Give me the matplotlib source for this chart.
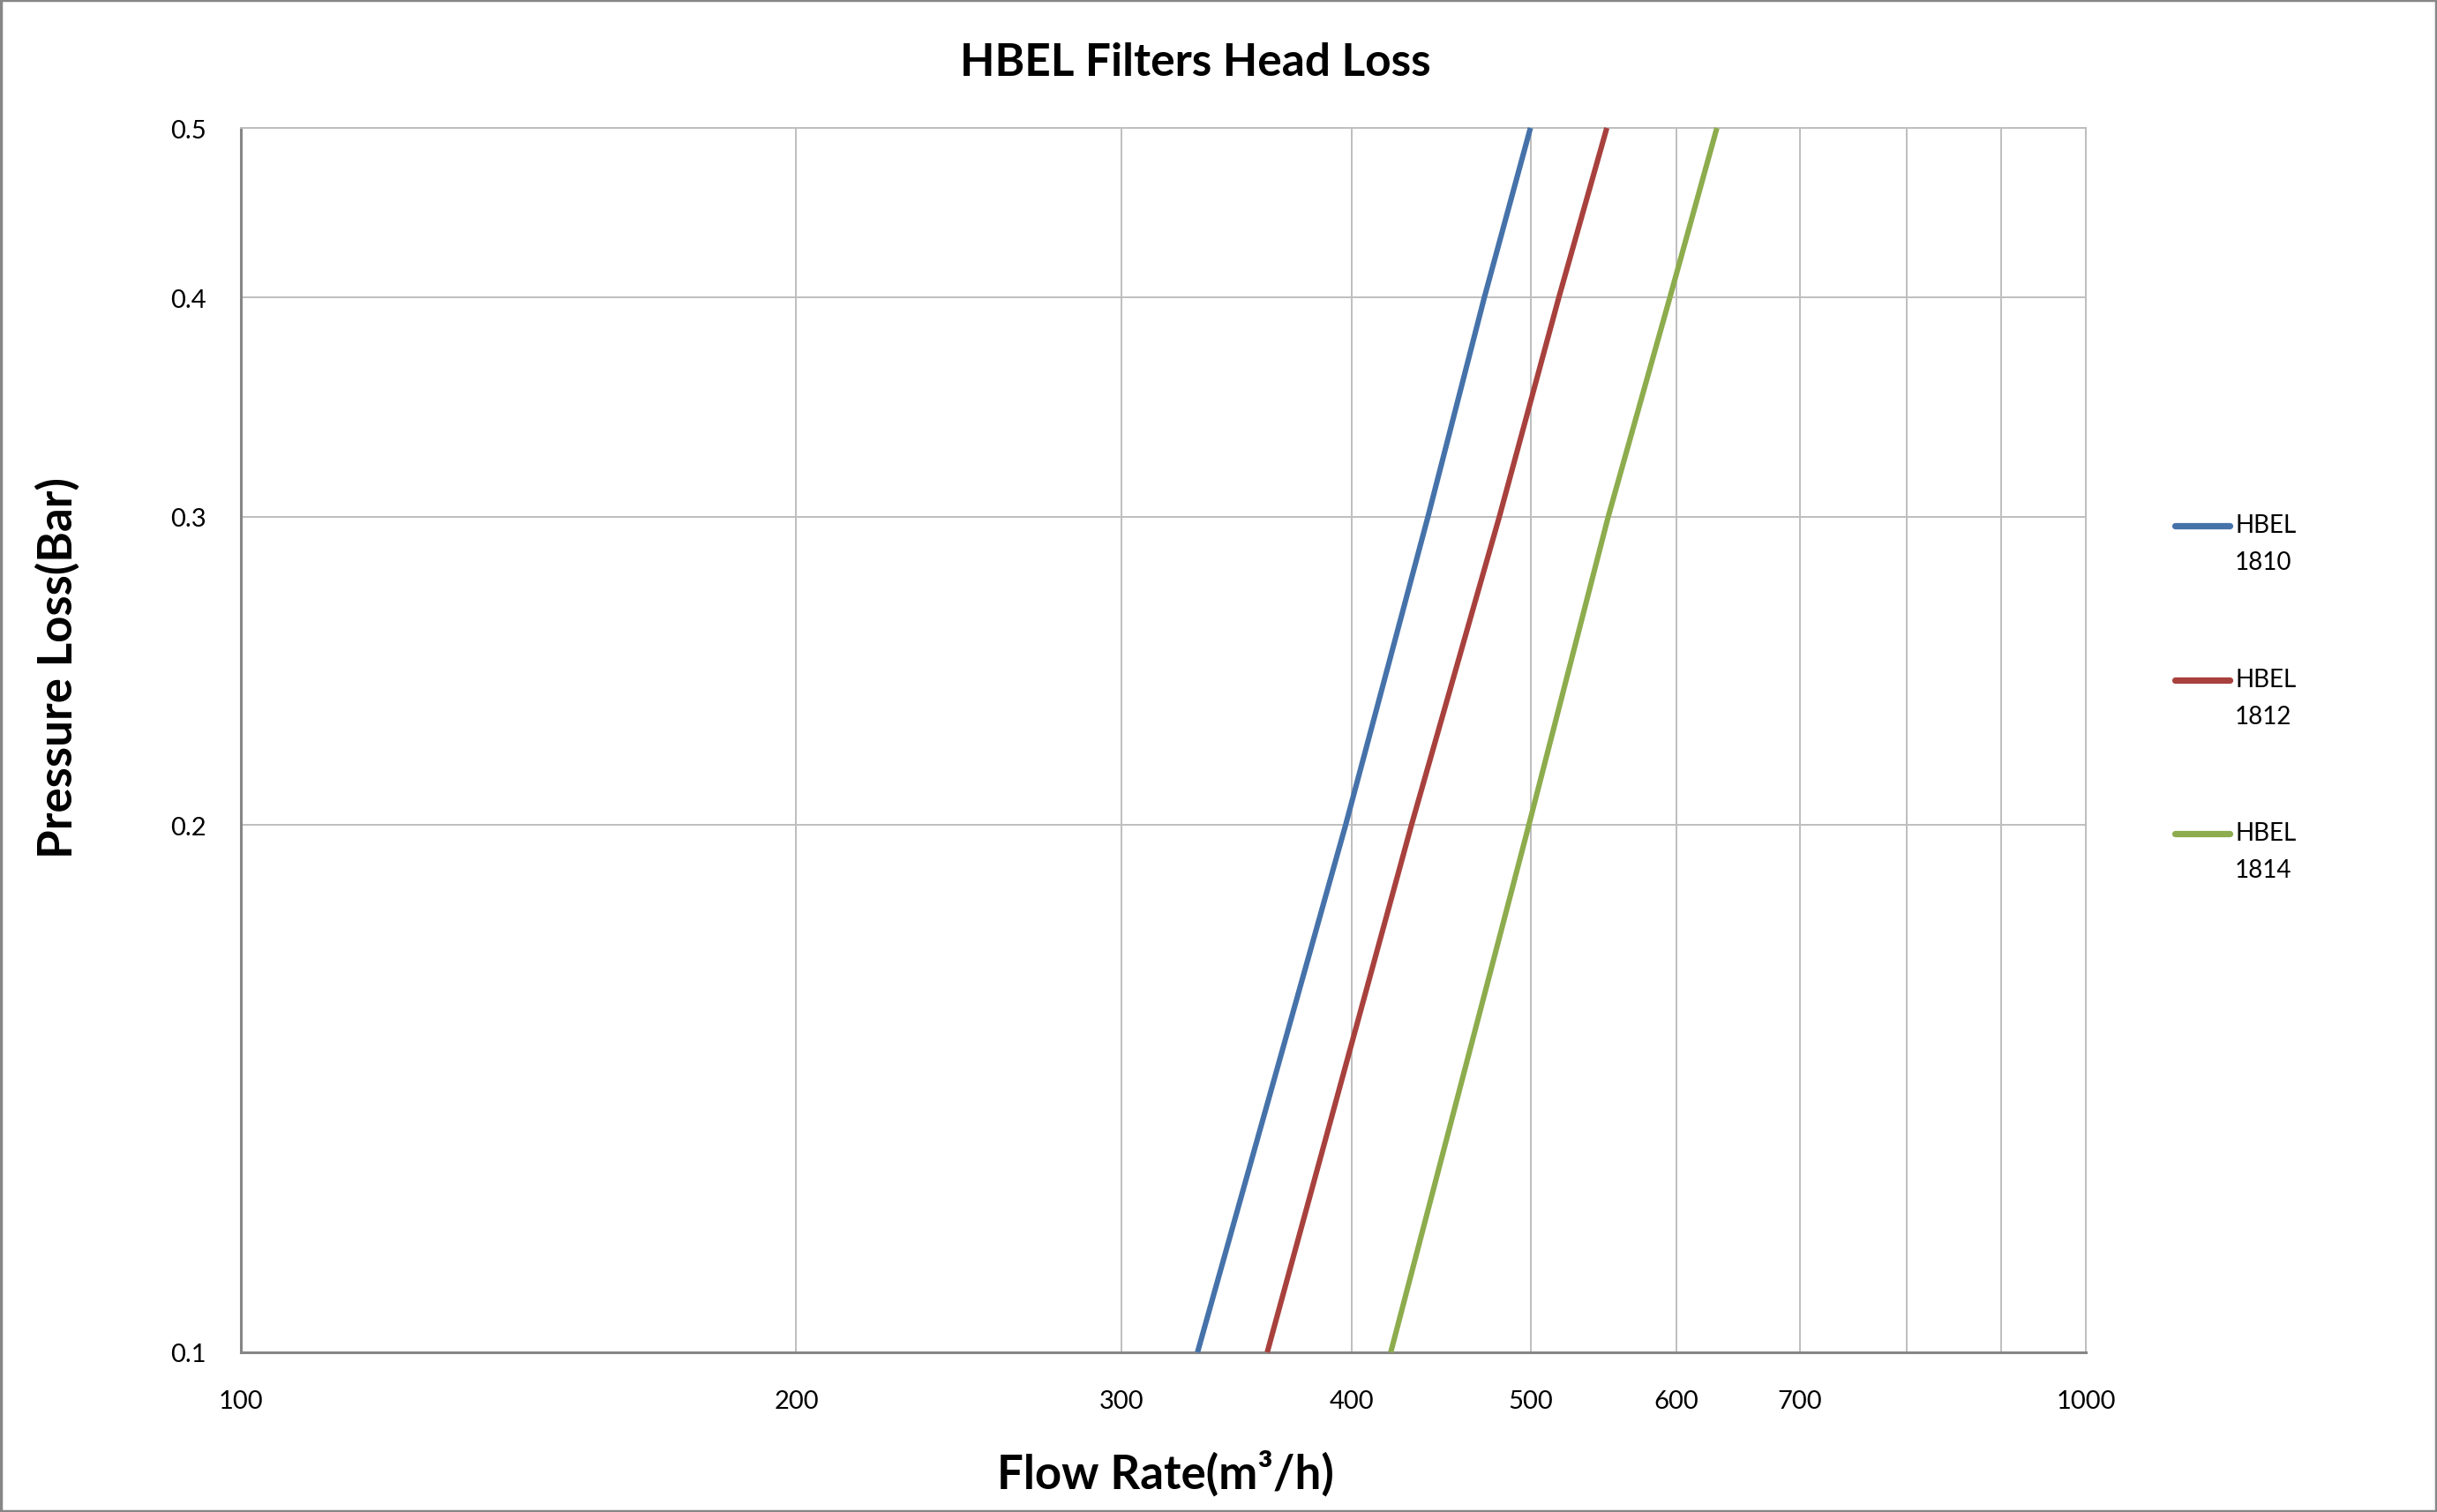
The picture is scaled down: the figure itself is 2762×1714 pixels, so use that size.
import matplotlib
matplotlib.use("Agg")
import matplotlib.pyplot as plt
from matplotlib.lines import Line2D
from matplotlib.patches import Rectangle

# ---- data ----
pressure = [0.1, 0.2, 0.3, 0.4, 0.5]
flow_1810 = [330, 397, 440, 472, 500]
flow_1812 = [360, 431, 481, 518, 550]
flow_1814 = [420, 499, 551, 595, 631]
series_names = ["HBEL\n1810", "HBEL\n1812", "HBEL\n1814"]
series_colors = ["#4672AA", "#A8413D", "#8DAC4D"]

x_ticks = [100, 200, 300, 400, 500, 600, 700, 800, 900, 1000]
x_tick_labels = ["100", "200", "300", "400", "500", "600", "700", "", "", "1000"]
y_ticks = [0.1, 0.2, 0.3, 0.4, 0.5]
y_tick_labels = ["0.1", "0.2", "0.3", "0.4", "0.5"]

plt.rcParams['font.family'] = ['Lato', 'DejaVu Sans']

W, H = 2762, 1715
fig = plt.figure(figsize=(W / 100, H / 100), dpi=100)
ax = fig.add_axes([273 / W, 1 - 1534 / H, (2364 - 273) / W, (1534 - 146) / H])

flows = [flow_1810, flow_1812, flow_1814]
for fl, c in zip(flows, series_colors):
    ax.plot(fl, pressure, color=c, lw=4.4, solid_capstyle='butt', zorder=3, clip_on=False)

ax.set_xscale('log')
ax.set_yscale('log')
ax.set_xlim(100, 1000)
ax.set_ylim(0.1, 0.5)
ax.xaxis.set_minor_locator(matplotlib.ticker.NullLocator())
ax.yaxis.set_minor_locator(matplotlib.ticker.NullLocator())
ax.set_xticks(x_ticks)
ax.set_xticklabels(x_tick_labels)
ax.set_yticks(y_ticks)
ax.set_yticklabels(y_tick_labels)
ax.tick_params(axis='both', length=0, labelsize=21, colors='black')
ax.tick_params(axis='x', pad=30)
ax.tick_params(axis='y', pad=28)
ax.grid(True, color='#BEBEBE', lw=1.4, zorder=1)

for s in ['top', 'right']:
    ax.spines[s].set_color('#BEBEBE')
    ax.spines[s].set_linewidth(1.4)
for s in ['left', 'bottom']:
    ax.spines[s].set_color('#868686')
    ax.spines[s].set_linewidth(2.2)

fig.text(1355 / W, 1 - 72 / H, "HBEL Filters Head Loss", ha='center', va='center',
         fontsize=37, fontweight='bold')
fig.text(1321 / W, 1 - 1670 / H, "Flow Rate(m³/h)", ha='center', va='center',
         fontsize=38, fontweight='bold')
fig.text(65 / W, 1 - 757 / H, "Pressure Loss(Bar)", ha='center', va='center',
         rotation=90, fontsize=38, fontweight='bold')

# legend (manual, to place each line beside the first text row)
leg_y = [597, 772, 946]
for name, c, yy in zip(series_names, series_colors, leg_y):
    fig.add_artist(Line2D([2465 / W, 2527 / W], [1 - yy / H, 1 - yy / H], color=c,
                          lw=5.2, solid_capstyle='round', transform=fig.transFigure))
    fig.text(2533 / W, 1 - (yy - 14) / H, name, ha='left', va='top', fontsize=20,
             linespacing=1.75)

# figure border
fig.add_artist(Rectangle((0.0005, 0.0008), 0.999, 0.9984, transform=fig.transFigure,
                         fill=False, edgecolor='#868686', lw=2.5))

fig.savefig("out.png", dpi=100)
